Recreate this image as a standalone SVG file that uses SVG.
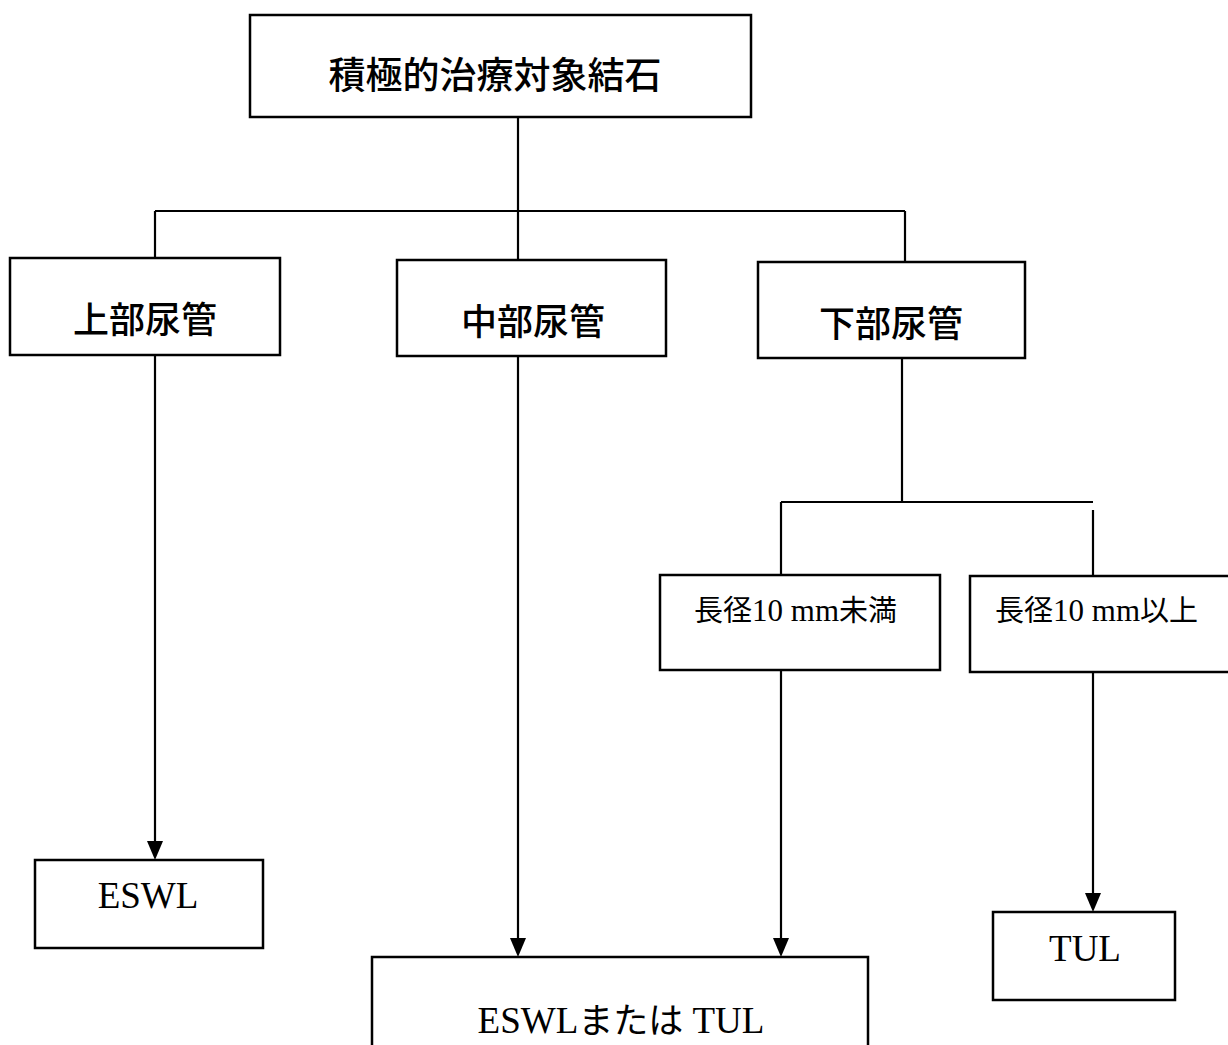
<svg xmlns="http://www.w3.org/2000/svg" width="1228" height="1045" viewBox="0 0 1228 1045">
<defs>
<style>
.box{fill:#fff;stroke:#000;stroke-width:2.5}
.ln{fill:none;stroke:#000;stroke-width:2.2}
.jp{font-family:"Noto Sans CJK JP","Noto Sans CJK SC",sans-serif;font-weight:500;fill:#000;text-anchor:middle}
.en{font-family:"Liberation Serif","Noto Sans CJK JP",serif;fill:#000;text-anchor:middle}
.mix{font-family:"Liberation Serif","Noto Sans CJK JP",serif;fill:#000}
.g{font-family:"Noto Sans CJK JP",sans-serif}
.ah{fill:#000}
</style>
</defs>
<rect width="1228" height="1045" fill="#fff"/>
<g id="connectors">
<line class="ln" x1="518" y1="117" x2="518" y2="211"/>
<line class="ln" x1="155" y1="211" x2="905" y2="211"/>
<line class="ln" x1="155" y1="211" x2="155" y2="258"/>
<line class="ln" x1="518" y1="211" x2="518" y2="260"/>
<line class="ln" x1="905" y1="211" x2="905" y2="262"/>
<path class="ln" d="M155,355 V842"/>
<path class="ah" d="M147,841 L163,841 L155,860 Z"/>
<path class="ln" d="M518,356 V939"/>
<path class="ah" d="M510,938 L526,938 L518,957 Z"/>
<line class="ln" x1="902" y1="358" x2="902" y2="502"/>
<line class="ln" x1="781" y1="502" x2="1093" y2="502"/>
<line class="ln" x1="781" y1="502" x2="781" y2="575"/>
<line class="ln" x1="1093" y1="510" x2="1093" y2="576"/>
<path class="ln" d="M781,670 V939"/>
<path class="ah" d="M773,938 L789,938 L781,957 Z"/>
<path class="ln" d="M1093,672 V894"/>
<path class="ah" d="M1085,893 L1101,893 L1093,912 Z"/>
</g>
<g id="n_top">
<rect class="box" x="250" y="15" width="501" height="102"/>
<text class="jp" x="495" y="89" font-size="37">積極的治療対象結石</text>
</g>
<g id="n_upper">
<rect class="box" x="10" y="258" width="270" height="97"/>
<text class="jp" x="145" y="333" font-size="36">上部尿管</text>
</g>
<g id="n_middle">
<rect class="box" x="397" y="260" width="269" height="96"/>
<text class="jp" x="533" y="335" font-size="36">中部尿管</text>
</g>
<g id="n_lower">
<rect class="box" x="758" y="262" width="267" height="96"/>
<text class="jp" x="891" y="337" font-size="36">下部尿管</text>
</g>
<g id="n_lt10">
<rect class="box" x="660" y="575" width="280" height="95"/>
<text class="mix" x="694" y="621" font-size="31"><tspan class="g" font-size="29">長径</tspan>10 mm<tspan class="g" font-size="29">未満</tspan></text>
</g>
<g id="n_ge10">
<rect class="box" x="970" y="576" width="262" height="96"/>
<text class="mix" x="995" y="621" font-size="31"><tspan class="g" font-size="29">長径</tspan>10 mm<tspan class="g" font-size="29">以上</tspan></text>
</g>
<g id="n_eswl">
<rect class="box" x="35" y="860" width="228" height="88"/>
<text class="en" x="148" y="908" font-size="37">ESWL</text>
</g>
<g id="n_eswl_tul">
<rect class="box" x="372" y="957" width="496" height="100"/>
<text class="en" x="621" y="1033" font-size="37">ESWL<tspan font-family="Noto Sans CJK JP" font-size="35">または</tspan>  TUL</text>
</g>
<g id="n_tul">
<rect class="box" x="993" y="912" width="182" height="88"/>
<text class="en" x="1085" y="961" font-size="37">TUL</text>
</g>
</svg>
